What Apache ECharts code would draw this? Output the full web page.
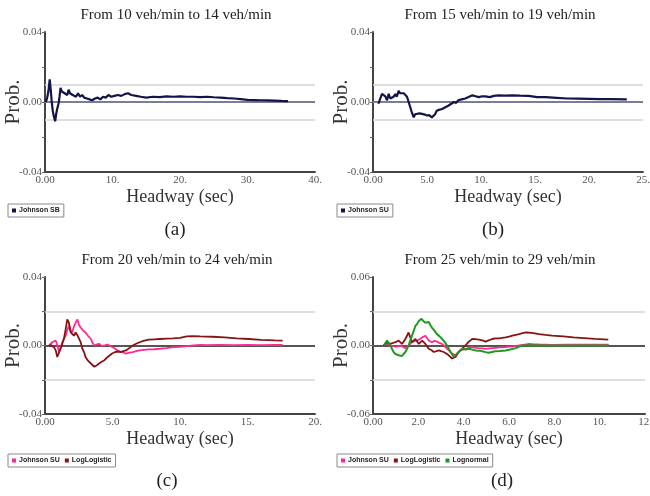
<!DOCTYPE html>
<html><head><meta charset="utf-8">
<script src="https://cdn.jsdelivr.net/npm/echarts@6.0.0/dist/echarts.min.js"></script>
<style>html,body{margin:0;padding:0;background:#fff}#c{width:650px;height:496px}</style>
</head><body><div id="c"></div><script>
// ---------- data ----------
const aJohnsonSB = [[0.1,0],[0.3,0.002],[0.5,0.006],[0.7,0.013],[0.85,0.007],[1.0,0.000],[1.15,-0.005],[1.3,-0.008],[1.5,-0.011],[1.65,-0.007],[1.8,-0.004],[2.0,-0.001],[2.15,0.003],[2.3,0.008],[2.5,0.006],[2.7,0.007],[2.9,0.005],[3.1,0.006],[3.3,0.004],[3.5,0.007],[3.7,0.005],[3.9,0.006],[4.1,0.004],[4.3,0.005],[4.6,0.003],[4.9,0.005],[5.2,0.003],[5.5,0.004],[5.8,0.0025],[6.2,0.002],[6.6,0.0015],[7.0,0.001],[7.4,0.002],[7.8,0.0025],[8.2,0.0015],[8.6,0.003],[9.0,0.0025],[9.4,0.004],[9.8,0.003],[10.3,0.0035],[10.8,0.004],[11.3,0.0035],[11.8,0.0045],[12.3,0.005],[12.8,0.004],[13.5,0.0035],[14.2,0.003],[15,0.0025],[16,0.003],[17,0.0028],[18,0.0032],[19,0.003],[20,0.0032],[21,0.003],[22,0.003],[23,0.0028],[24,0.003],[25,0.0027],[26,0.0025],[27,0.0022],[28,0.002],[29,0.0016],[30,0.0012],[31,0.0011],[32,0.001],[33,0.0009],[34,0.0008],[35,0.0006],[36,0.0005]];
const bJohnsonSU = [[0.5,-0.001],[0.65,0.000],[0.83,0.0047],[1.0,0.004],[1.14,0.0032],[1.3,0.001],[1.45,0.0047],[1.6,0.002],[1.76,0.0022],[1.9,0.003],[2.07,0.0045],[2.2,0.003],[2.38,0.0064],[2.5,0.005],[2.68,0.0045],[2.85,0.005],[2.99,0.0047],[3.15,0.003],[3.3,0.0],[3.45,-0.003],[3.6,-0.006],[3.77,-0.0088],[3.9,-0.007],[4.08,-0.006],[4.3,-0.0065],[4.55,-0.0068],[4.8,-0.0072],[5.0,-0.0077],[5.2,-0.0075],[5.45,-0.0088],[5.6,-0.009],[5.75,-0.007],[5.9,-0.005],[6.1,-0.0045],[6.4,-0.004],[6.7,-0.003],[7.0,-0.002],[7.25,-0.001],[7.5,0],[7.7,-0.0005],[7.9,0.001],[8.2,0.0015],[8.55,0.002],[8.9,0.003],[9.2,0.0038],[9.5,0.0033],[9.8,0.0028],[10.1,0.0033],[10.4,0.0032],[10.8,0.0028],[11.2,0.0035],[11.6,0.0038],[12.2,0.0036],[12.9,0.0038],[13.6,0.0036],[14.4,0.0035],[15.2,0.0028],[16.0,0.0028],[17.0,0.0024],[18.0,0.002],[19.0,0.0019],[20.0,0.0018],[21.0,0.0016],[22.0,0.0016],[23.5,0.0015]];
const cJohnsonSU = [[0.3,0],[0.54,0.0019],[0.79,0.0029],[0.92,0.0],[1.04,-0.0038],[1.16,-0.001],[1.28,0.0019],[1.4,0.004],[1.53,0.0057],[1.65,0.009],[1.77,0.0114],[1.9,0.009],[2.0,0.0076],[2.14,0.011],[2.27,0.0133],[2.4,0.0152],[2.52,0.012],[2.64,0.0105],[2.8,0.009],[3.0,0.0076],[3.2,0.0055],[3.4,0.0038],[3.52,0.0015],[3.65,0],[3.8,0.0005],[4.0,0.001],[4.2,-0.0002],[4.4,0.0],[4.6,0.0005],[4.8,0],[5.0,-0.001],[5.2,-0.0019],[5.4,-0.003],[5.6,-0.0038],[5.8,-0.004],[6.0,-0.0048],[6.25,-0.0042],[6.5,-0.0038],[6.75,-0.0033],[7.0,-0.0029],[7.35,-0.0026],[7.7,-0.0023],[8.1,-0.0022],[8.5,-0.0019],[9.0,-0.0015],[9.5,-0.001],[10.0,-0.0008],[10.5,-0.0004],[11.0,0.0],[11.5,0.0004],[12.0,0.0002],[13.0,0.0003],[14.0,0.0002],[15.0,0.0003],[16.0,0.0002],[17.0,0.0003],[17.6,0.0003]];
const cLogLogistic = [[0.3,0],[0.5,0.0],[0.67,-0.001],[0.8,-0.003],[0.91,-0.0067],[1.04,-0.004],[1.16,-0.0019],[1.28,0.001],[1.4,0.0038],[1.52,0.009],[1.65,0.0152],[1.77,0.0133],[1.9,0.0076],[2.02,0.007],[2.14,0.0057],[2.27,0.0076],[2.4,0.006],[2.5,0.0057],[2.64,0.002],[2.77,-0.0019],[2.9,-0.004],[3.0,-0.0067],[3.2,-0.009],[3.4,-0.0105],[3.65,-0.0124],[3.85,-0.0115],[4.0,-0.0105],[4.2,-0.0095],[4.4,-0.0086],[4.6,-0.007],[4.8,-0.0057],[5.0,-0.0045],[5.2,-0.0038],[5.4,-0.0035],[5.6,-0.0038],[5.8,-0.0033],[6.0,-0.0029],[6.25,-0.0015],[6.5,0],[6.75,0.001],[7.0,0.0019],[7.35,0.0028],[7.7,0.0034],[8.1,0.0036],[8.5,0.0038],[9.0,0.004],[9.5,0.0042],[10.0,0.0045],[10.5,0.0053],[11.0,0.0055],[11.5,0.0053],[12.4,0.0051],[13.3,0.0047],[14.2,0.0042],[15.1,0.0038],[16.0,0.0033],[17.0,0.003],[17.6,0.0029]];
const dJohnsonSU = [[0.47,0],[0.62,0.0014],[0.77,0.0],[0.91,-0.0007],[1.06,-0.001],[1.2,0.0],[1.28,0],[1.43,-0.0023],[1.57,0],[1.72,0.0029],[1.84,0.004],[1.94,0.0043],[2.05,0.0055],[2.17,0.0071],[2.31,0.0086],[2.46,0.0043],[2.6,0.0029],[2.72,0.004],[2.82,0.0034],[2.95,0.002],[3.05,0.0014],[3.16,-0.0005],[3.27,-0.0029],[3.38,-0.005],[3.49,-0.0071],[3.64,-0.0086],[3.75,-0.006],[3.86,-0.0043],[4.08,-0.0029],[4.23,-0.002],[4.38,-0.0014],[4.53,-0.002],[4.67,-0.0023],[4.82,-0.0025],[4.97,-0.0029],[5.15,-0.0025],[5.4,-0.002],[5.6,-0.0017],[5.85,-0.0014],[6.15,-0.0008],[6.45,0],[6.7,0.0008],[6.9,0.0014],[7.1,0.001],[7.33,0.0009],[7.6,0.0008],[7.9,0.0006],[8.5,0.0007],[9.0,0.0008],[9.5,0.0007],[10.0,0.0008],[10.4,0.0008]];
const dLogLogistic = [[0.47,0],[0.62,0.0029],[0.77,0.0014],[0.88,0.0022],[0.99,0.0029],[1.13,0.0043],[1.28,0.0014],[1.43,0.0057],[1.57,0.0114],[1.72,0.0029],[1.87,0.0057],[2.02,0.0014],[2.17,0.0043],[2.31,0.0014],[2.46,-0.0029],[2.57,-0.004],[2.68,-0.0057],[2.8,-0.005],[2.9,-0.0043],[3.0,-0.005],[3.12,-0.0057],[3.23,-0.007],[3.34,-0.0086],[3.49,-0.0114],[3.64,-0.01],[3.78,-0.0057],[3.9,-0.0035],[4.0,-0.0014],[4.12,0.001],[4.23,0.0034],[4.38,0.0057],[4.52,0.0055],[4.67,0.0051],[4.82,0.0045],[4.97,0.0034],[5.1,0.0045],[5.26,0.0057],[5.4,0.0062],[5.56,0.0063],[5.7,0.0066],[5.85,0.0071],[6.0,0.0078],[6.15,0.0086],[6.3,0.0093],[6.45,0.01],[6.6,0.0108],[6.75,0.0114],[7.0,0.011],[7.33,0.01],[7.6,0.0093],[7.9,0.0086],[8.4,0.008],[8.84,0.0071],[9.3,0.0065],[9.8,0.0058],[10.38,0.0051]];
const dLognormal = [[0.47,0],[0.62,0.0043],[0.7,0.003],[0.77,0],[0.84,-0.003],[0.91,-0.0057],[0.99,-0.0075],[1.06,-0.0091],[1.17,-0.0088],[1.28,-0.0091],[1.36,-0.0075],[1.43,-0.0057],[1.5,-0.003],[1.57,0],[1.64,0.004],[1.72,0.0086],[1.8,0.013],[1.87,0.0171],[1.95,0.019],[2.02,0.0214],[2.09,0.0225],[2.14,0.0234],[2.22,0.0215],[2.31,0.02],[2.38,0.0215],[2.46,0.0206],[2.53,0.018],[2.6,0.0157],[2.71,0.013],[2.82,0.01],[2.94,0.008],[3.05,0.0057],[3.16,0.003],[3.27,0],[3.35,-0.003],[3.42,-0.0057],[3.5,-0.008],[3.57,-0.01],[3.64,-0.0085],[3.71,-0.0071],[3.82,-0.005],[3.93,-0.0029],[4.08,-0.0035],[4.23,-0.0029],[4.38,-0.0036],[4.53,-0.0043],[4.67,-0.0045],[4.82,-0.0051],[4.97,-0.0058],[5.1,-0.0063],[5.25,-0.0057],[5.4,-0.0051],[5.6,-0.0048],[5.85,-0.0043],[6.05,-0.0035],[6.3,-0.0023],[6.45,-0.001],[6.6,0],[7.0,0.0002],[7.5,0],[8.0,0.0],[8.5,0.0001],[9.0,0],[9.5,0],[10.0,0.0001],[10.4,0]];

const titles = ['From 10 veh/min to 14 veh/min','From 15 veh/min to 19 veh/min','From 20 veh/min to 24 veh/min','From 25 veh/min to 29 veh/min'];
const captions = ['(a)','(b)','(c)','(d)'];
const xLabelsA = ['0.00','10.','20.','30.','40.'];
const xLabelsB = ['0.00','5.0','10.','15.','20.','25.'];
const xLabelsC = ['0.00','5.0','10.','15.','20.'];
const xLabelsD = ['0.00','2.0','4.0','6.0','8.0','10.','12.'];
const yLabels04 = ['-0.04','','0.00','','0.04'];
const yLabels06 = ['-0.06','','0.00','','0.06'];
const xMaxes = [40,25,20,12];
const xSteps = [10,5,5,2];
const yMaxes = [0.04,0.04,0.04,0.06];
const bands = [0.015,0.015,0.0177,0.026];

// ---------- styles ----------
const NAVY='#14144a', PINK='#ff2a90', MAROON='#861414', GREEN='#1f9a1f';
const SERIF='"Liberation Serif", "Times New Roman", serif';
const grids = [
  {left:45, top:32, width:270, height:140},
  {left:373, top:32, width:270, height:140},
  {left:45, top:277, width:270, height:137},
  {left:373, top:277, width:272, height:137}
].map(g=>Object.assign(g,{containLabel:false, outerBoundsMode:'none'}));
const titlePos = [[176,15],[500,15],[177,260],[500,260]];
const capPos = [[175,230],[493,230],[167,481],[502,481]];
const legendPos = [[8,204],[337,204],[8,454],[337,454]];
const xLabelSets = [xLabelsA,xLabelsB,xLabelsC,xLabelsD];
const yLabelSets = [yLabels04,yLabels04,yLabels04,yLabels06];
const panelSeries = [
  [{name:'Johnson SB', data:aJohnsonSB, color:NAVY, w:2.2}],
  [{name:'Johnson SU', data:bJohnsonSU, color:NAVY, w:2.2}],
  [{name:'Johnson SU', data:cJohnsonSU, color:PINK, w:1.8},{name:'LogLogistic', data:cLogLogistic, color:MAROON, w:1.8}],
  [{name:'Johnson SU', data:dJohnsonSU, color:PINK, w:1.8},{name:'LogLogistic', data:dLogLogistic, color:MAROON, w:1.8},{name:'Lognormal', data:dLognormal, color:GREEN, w:2}]
];
const zeroColors = ['#7c7c96','#7c7c96','#555','#555'];

const xAxes=[], yAxes=[], series=[], legends=[], graphics=[];
for (let i=0;i<4;i++){
  const xl = xLabelSets[i], yl = yLabelSets[i], step = xSteps[i], ym = yMaxes[i];
  xAxes.push({
    type:'value', gridIndex:i, min:0, max:xMaxes[i], interval:step,
    name:'Headway (sec)', nameLocation:'middle', nameGap:16, nameMoveOverlap:false,
    nameTextStyle:{fontFamily:SERIF, fontSize:18, color:'#333'},
    axisLine:{onZero:false, lineStyle:{color:'#444', width:2}},
    axisTick:{show:false}, splitLine:{show:false},
    axisLabel:{margin:3, fontFamily:SERIF, fontSize:11, color:'#555', showMaxLabel:true, hideOverlap:false,
      formatter:(v)=>{const k=Math.round(v/step); return xl[k]!==undefined?xl[k]:'';}}
  });
  yAxes.push({
    type:'value', gridIndex:i, min:-ym, max:ym, interval:ym/2,
    name:'Prob.', nameLocation:'middle', nameGap:21, nameMoveOverlap:false,
    nameTextStyle:{fontFamily:SERIF, fontSize:21, color:'#333'},
    axisLine:{onZero:false, lineStyle:{color:'#444', width:2}},
    axisTick:{show:true, length:3, lineStyle:{color:'#666'}}, splitLine:{show:false},
    axisLabel:{margin:3, fontFamily:SERIF, fontSize:11, color:'#555',
      formatter:(v)=>{const k=Math.round((v+ym)/(ym/2)); return yl[k]!==undefined?yl[k]:'';}}
  });
  panelSeries[i].forEach((s,j)=>{
    const o = {
      type:'line', name:s.name, xAxisIndex:i, yAxisIndex:i, data:s.data,
      showSymbol:false, symbol:'none', z:3,
      lineStyle:{color:s.color, width:s.w}, itemStyle:{color:s.color}
    };
    if (j===0){
      o.markLine = {
        silent:true, symbol:'none', z:1, label:{show:false},
        data:[
          {yAxis:bands[i], lineStyle:{color:'#d4d4d4', width:1.5, type:'solid'}},
          {yAxis:-bands[i], lineStyle:{color:'#d4d4d4', width:1.5, type:'solid'}},
          {yAxis:0, lineStyle:{color:zeroColors[i], width:2, type:'solid'}}
        ]
      };
    }
    series.push(o);
  });
  legends.push({
    left:legendPos[i][0], top:legendPos[i][1], orient:'horizontal',
    icon:'rect', itemWidth:4, itemHeight:4, itemGap:5,
    padding:[3,4], borderColor:'#8a8a8a', borderWidth:1, backgroundColor:'#fff',
    selectedMode:false,
    textStyle:{fontFamily:'"Liberation Sans", Arial, sans-serif', fontSize:7, fontWeight:'bold', color:'#222', padding:[0,0,0,-2]},
    data: panelSeries[i].map(s=>({name:s.name, itemStyle:{color:s.color}}))
  });
  graphics.push({type:'text', x:titlePos[i][0], y:titlePos[i][1],
    style:{text:titles[i], font:'15px '+SERIF, fill:'#222', textAlign:'center', verticalAlign:'middle', textVerticalAlign:'middle'}});
  graphics.push({type:'text', x:capPos[i][0], y:capPos[i][1],
    style:{text:captions[i], font:'19px '+SERIF, fill:'#222', textAlign:'center', verticalAlign:'middle', textVerticalAlign:'middle'}});
}

const chart = echarts.init(document.getElementById('c'), null, {renderer:'canvas'});
chart.setOption({
  animation:false, backgroundColor:'#fff',
  grid:grids, xAxis:xAxes, yAxis:yAxes, series:series, legend:legends, graphic:graphics
});
</script></body></html>
